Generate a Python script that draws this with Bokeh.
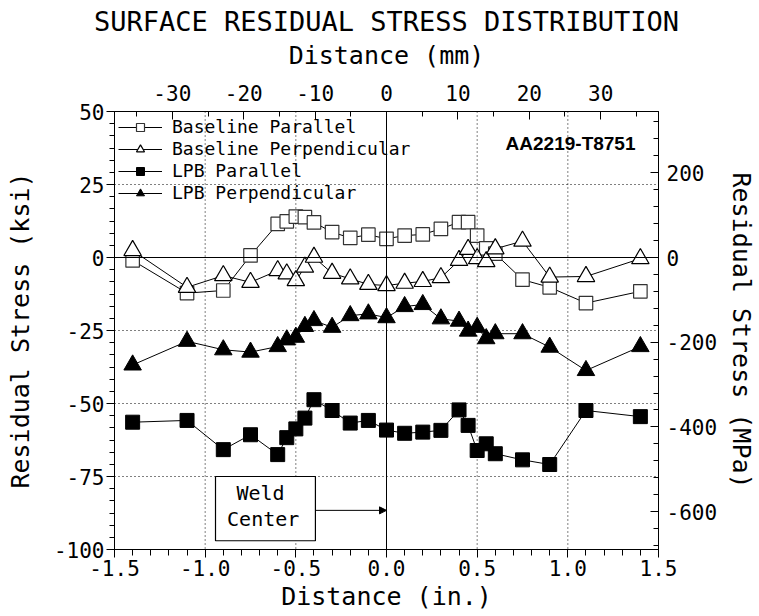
from bokeh.plotting import figure
from bokeh.models import (ColumnDataSource, Range1d, LinearAxis, FixedTicker, PrintfTickFormatter,
                          Span, BoxAnnotation, Label, Arrow, NormalHead, Legend, LegendItem, Title)
from bokeh.embed import file_html
from bokeh.resources import INLINE

# ---------------- data ----------------
distance_in = [-1.4, -1.1, -0.9, -0.75, -0.6, -0.55, -0.5, -0.45, -0.4, -0.3, -0.2, -0.1, 0.0,
               0.1, 0.2, 0.3, 0.4, 0.45, 0.5, 0.55, 0.6, 0.75, 0.9, 1.1, 1.4]
baseline_parallel = [-1.0, -12.2, -11.3, 0.7, 11.5, 12.4, 14.0, 13.8, 12.0, 8.7, 6.7, 7.8, 6.4,
                     7.5, 7.9, 9.8, 12.1, 12.1, 7.5, 3.1, 1.3, -7.6, -10.2, -15.6, -11.6]
baseline_perpendicular = [2.4, -10.2, -6.2, -8.5, -4.5, -5.6, -7.9, -3.3, 0.1, -5.4, -7.3, -9.2, -9.6,
                          -8.8, -8.2, -6.9, -1.0, 2.8, -0.4, -1.4, 3.0, 5.6, -6.7, -6.5, -0.4]
lpb_parallel = [-56.4, -55.8, -65.8, -60.7, -67.5, -61.7, -58.7, -55.0, -48.7, -52.4, -56.7, -55.8, -59.1,
                -60.2, -59.8, -59.2, -52.2, -57.5, -66.1, -63.8, -67.2, -69.3, -70.9, -52.4, -54.5]
lpb_perpendicular = [-36.8, -28.7, -31.6, -32.4, -30.5, -28.2, -27.3, -23.6, -21.6, -23.9, -19.9, -19.3, -20.6,
                     -16.8, -16.1, -21.0, -21.8, -25.2, -23.9, -27.8, -26.1, -26.1, -30.7, -38.7, -30.5]

series_names = ["Baseline Parallel", "Baseline Perpendicular", "LPB Parallel", "LPB Perpendicular"]

x_ticks_in = [-1.5, -1.0, -0.5, 0.0, 0.5, 1.0, 1.5]
x_minor_in = [round(-1.5 + 0.1 * i, 2) for i in range(31)]
x_ticks_mm = [-30, -20, -10, 0, 10, 20, 30]
x_minor_mm = [-35, -30, -25, -20, -15, -10, -5, 0, 5, 10, 15, 20, 25, 30, 35]
y_ticks_ksi = [-100, -75, -50, -25, 0, 25, 50]
y_minor_ksi = [-100 + 25.0 / 6 * i for i in range(37)]
y_ticks_mpa = [-600, -400, -200, 0, 200]
y_minor_mpa = [-680 + 40 * i for i in range(26)]

KSI_TO_MPA = 6.894757
IN_TO_MM = 25.4
MONO = "DejaVu Sans Mono"

src = ColumnDataSource(dict(x=distance_in, bp=baseline_parallel, bq=baseline_perpendicular,
                            lp=lpb_parallel, lq=lpb_perpendicular))

p = figure(width=759, height=616, x_range=Range1d(-1.5, 1.5), y_range=Range1d(-100, 50),
           output_backend="svg", toolbar_location=None, title=None,
           min_border_left=114, min_border_right=101, min_border_top=111, min_border_bottom=67)
p.extra_x_ranges = {"mm": Range1d(-1.5 * IN_TO_MM, 1.5 * IN_TO_MM)}
p.extra_y_ranges = {"mpa": Range1d(-100 * KSI_TO_MPA, 50 * KSI_TO_MPA)}
p.xgrid.visible = False
p.ygrid.visible = False
p.outline_line_color = "black"
p.outline_line_width = 1
p.background_fill_color = "white"
p.border_fill_color = "white"


def style_axis(ax, label, major, minor, fmt, tin, tout, standoff, label_standoff, label_size="25px"):
    ax.axis_label = label
    ax.ticker = FixedTicker(ticks=major, minor_ticks=minor)
    ax.formatter = PrintfTickFormatter(format=fmt)
    ax.axis_line_color = "black"
    ax.major_tick_line_color = "black"
    ax.minor_tick_line_color = "black"
    ax.major_tick_in = tin[0]
    ax.minor_tick_in = tin[1]
    ax.major_tick_out = tout[0]
    ax.minor_tick_out = tout[1]
    ax.major_label_text_font = MONO
    ax.major_label_text_font_size = "21px"
    ax.major_label_text_color = "black"
    ax.major_label_standoff = standoff
    ax.axis_label_text_font = MONO
    ax.axis_label_text_font_size = label_size
    ax.axis_label_text_font_style = "normal"
    ax.axis_label_text_color = "black"
    ax.axis_label_standoff = label_standoff


style_axis(p.xaxis[0], "Distance (in.)", x_ticks_in, x_minor_in, "%.1f", (0, 0), (8, 6), 2, 3)
style_axis(p.yaxis[0], "Residual Stress (ksi)", y_ticks_ksi, y_minor_ksi, "%d", (0, 0), (8, 5), 2, 16)

top_ax = LinearAxis(x_range_name="mm")
style_axis(top_ax, "Distance (mm)", x_ticks_mm, x_minor_mm, "%d", (8, 5), (0, 0), 11, 12)
p.add_layout(top_ax, "above")

right_ax = LinearAxis(y_range_name="mpa")
style_axis(right_ax, "Residual Stress (MPa)", y_ticks_mpa, y_minor_mpa, "%d", (8, 5), (0, 0), 8, 7)
p.add_layout(right_ax, "right")

p.add_layout(Title(text="SURFACE RESIDUAL STRESS DISTRIBUTION", align="center",
                   text_font=MONO, text_font_size="27px", text_font_style="normal",
                   text_color="black", standoff=2), "above")

# series: lines first, then markers
lines = {}
for key in ["bp", "bq", "lp", "lq"]:
    lines[key] = p.line("x", key, source=src, line_color="black", line_width=1)

m_bp = p.scatter("x", "bp", source=src, marker="square", size=13.5,
                 fill_color="white", line_color="#333333", line_width=1.2)
m_bq = p.scatter("x", "bq", source=src, marker="triangle", size=17.5,
                 fill_color="white", line_color="black", line_width=1.2)
m_lp = p.scatter("x", "lp", source=src, marker="square", size=14,
                 fill_color="black", line_color="black", line_width=1)
m_lq = p.scatter("x", "lq", source=src, marker="triangle", size=17.5,
                 fill_color="black", line_color="black", line_width=1)

# dotted grid lines and solid zero lines (drawn over the markers, as in the reference)
for gx in [-1.0, -0.5, 0.5, 1.0]:
    p.add_layout(Span(location=gx, dimension="height", line_color="black",
                      line_dash="1 3", line_width=1))
for gy in [25, -25, -50, -75]:
    p.add_layout(Span(location=gy, dimension="width", line_color="black",
                      line_dash="1 3", line_width=1))
p.add_layout(Span(location=0, dimension="height", line_color="black", line_width=1))
p.add_layout(Span(location=0, dimension="width", line_color="black", line_width=1))

# Weld center box and arrow
p.add_layout(BoxAnnotation(left=-0.943, right=-0.392, top=-75.0, bottom=-97.0,
                           fill_color="white", fill_alpha=1.0, line_color="black",
                           line_width=1.2, line_alpha=1.0))
p.add_layout(Label(x=-0.695, y=-80.8, text="Weld", text_font=MONO, text_font_size="20px",
                   text_align="center", text_baseline="middle", text_color="black"))
p.add_layout(Label(x=-0.68, y=-89.6, text="Center", text_font=MONO, text_font_size="20px",
                   text_align="center", text_baseline="middle", text_color="black"))
p.add_layout(Arrow(x_start=-0.392, y_start=-86.6, x_end=0.0, y_end=-86.6, line_color="black",
                   line_width=1, end=NormalHead(size=7, fill_color="black", line_color="black")))

p.add_layout(Label(x=1.015, y=39.0, text="AA2219-T8751", text_font="Liberation Sans",
                   text_font_size="19px", text_font_style="bold", text_align="center",
                   text_baseline="middle", text_color="black"))

legend = Legend(items=[
    LegendItem(label=series_names[0], renderers=[lines["bp"], m_bp]),
    LegendItem(label=series_names[1], renderers=[lines["bq"], m_bq]),
    LegendItem(label=series_names[2], renderers=[lines["lp"], m_lp]),
    LegendItem(label=series_names[3], renderers=[lines["lq"], m_lq]),
], location=(4, 346), background_fill_alpha=0.0, border_line_alpha=0.0, padding=0, margin=0,
    spacing=1, glyph_width=44, glyph_height=20, label_height=20, label_standoff=10,
    label_text_font=MONO, label_text_font_size="18px", label_text_color="black")
p.add_layout(legend)

open("out.html", "w").write(file_html(p, INLINE))
